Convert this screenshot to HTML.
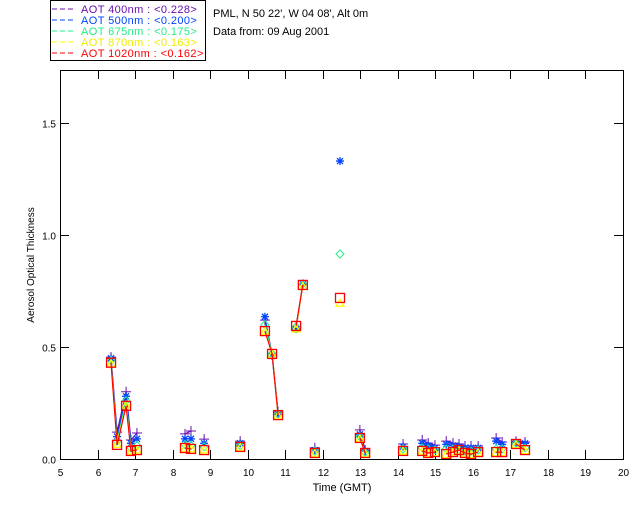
<!DOCTYPE html>
<html><head><meta charset="utf-8"><style>
body{margin:0;background:#fff;}
svg{display:block;font-family:"Liberation Sans",sans-serif;}
</style></head><body>
<svg width="640" height="512" viewBox="0 0 640 512">
<g>
<rect x="50.5" y="0.5" width="155" height="60" fill="#fff" stroke="#000"/>
<g font-size="11" letter-spacing="0.4" xml:space="preserve">
<g><line x1="52" y1="9" x2="76" y2="9" stroke="#6a0dad" stroke-dasharray="5,3"/><text x="81" y="13" fill="#6a0dad">AOT  400nm : &lt;0.228&gt;</text></g>
<g><line x1="52" y1="20" x2="76" y2="20" stroke="#0044ff" stroke-dasharray="5,3"/><text x="81" y="24" fill="#0044ff">AOT  500nm : &lt;0.200&gt;</text></g>
<g><line x1="52" y1="31" x2="76" y2="31" stroke="#22ee88" stroke-dasharray="5,3"/><text x="81" y="35" fill="#22ee88">AOT  675nm : &lt;0.175&gt;</text></g>
<g><line x1="52" y1="42" x2="76" y2="42" stroke="#ffff00" stroke-dasharray="5,3"/><text x="81" y="46" fill="#eeee00">AOT  870nm : &lt;0.163&gt;</text></g>
<g><line x1="52" y1="53" x2="76" y2="53" stroke="#ff0000" stroke-dasharray="5,3"/><text x="81" y="57" fill="#ff0000">AOT 1020nm : &lt;0.162&gt;</text></g>
</g></g>
<text x="213" y="17" font-size="11">PML, N 50 22', W 04 08', Alt 0m</text>
<text x="213" y="35" font-size="11">Data from: 09 Aug 2001</text>
<g id="axes"></g>
<g id="marks"></g>
<text x="342" y="491" font-size="11" text-anchor="middle">Time (GMT)</text>
<text transform="translate(34,265) rotate(-90)" font-size="10" text-anchor="middle">Aerosol Optical Thickness</text>
</svg>
<script>
const hours=[6.36,6.52,6.76,6.89,7.05,8.33,8.49,8.84,9.80,10.46,10.65,10.81,11.29,11.47,11.79,12.46,12.99,13.13,14.14,14.65,14.81,14.99,15.29,15.47,15.63,15.79,15.95,16.14,16.62,16.78,17.15,17.39];
const aot400=[0.455,0.12,0.30,0.085,0.116,0.112,0.125,0.089,0.08,0.62,0.47,0.21,0.59,0.78,0.05,1.80,0.13,0.04,0.067,0.085,0.071,0.062,0.08,0.071,0.067,0.058,0.058,0.058,0.094,0.076,0.08,0.076];
const aot500=[0.45,0.10,0.28,0.07,0.09,0.09,0.09,0.07,0.07,0.635,0.46,0.20,0.58,0.78,0.04,1.33,0.11,0.035,0.055,0.07,0.06,0.05,0.065,0.06,0.055,0.05,0.05,0.05,0.08,0.065,0.075,0.07];
const aot675=[0.44,0.08,0.26,0.05,0.06,0.065,0.06,0.055,0.06,0.60,0.47,0.20,0.59,0.78,0.035,0.915,0.10,0.03,0.045,0.05,0.045,0.04,0.045,0.045,0.04,0.035,0.035,0.04,0.045,0.045,0.07,0.05];
const aot870=[0.43,0.07,0.245,0.04,0.045,0.052,0.05,0.045,0.056,0.575,0.47,0.197,0.585,0.775,0.03,0.70,0.095,0.028,0.04,0.04,0.03,0.033,0.025,0.035,0.042,0.03,0.025,0.033,0.033,0.033,0.068,0.042];
const aot1020=[0.43,0.063,0.237,0.036,0.04,0.049,0.045,0.04,0.054,0.571,0.469,0.196,0.594,0.777,0.027,0.719,0.094,0.027,0.036,0.036,0.027,0.031,0.022,0.031,0.04,0.027,0.022,0.031,0.031,0.031,0.067,0.04];
const xTicks=[5,6,7,8,9,10,11,12,13,14,15,16,17,18,19,20];
const yTicks=[0,0.5,1.0,1.5];
const yTickLabels=["0.0","0.5","1.0","1.5"];

const L=60,R=623,T=70,B=459;
const xs=h=>L+(h-5)*(R-L)/15;
const ys=v=>B-v*224;
const NS="http://www.w3.org/2000/svg";
function mk(tag,attrs,parent){const e=document.createElementNS(NS,tag);for(const k in attrs)e.setAttribute(k,attrs[k]);parent.appendChild(e);return e;}
const axes=document.getElementById('axes'),marks=document.getElementById('marks');
const frame=mk('rect',{x:L+0.5,y:T+0.5,width:R-L,height:B-T,fill:'none',stroke:'#000'},axes);


xTicks.forEach(t=>{
  const x=Math.round(xs(t))+0.5;
  const a=mk('line',{x1:x,y1:B,x2:x,y2:B-9,stroke:'#000'},axes);
  
  
  mk('line',{x1:x,y1:T,x2:x,y2:T+9,stroke:'#000'},axes);
  const tx=mk('text',{x:x,y:B+17,'font-size':10,'text-anchor':'middle'},axes);
  tx.textContent=t;
  
  
});
yTicks.forEach((t,i)=>{
  const y=Math.round(ys(t))+0.5;
  const a=mk('line',{x1:L,y1:y,x2:L+9,y2:y,stroke:'#000'},axes);
  
  
  mk('line',{x1:R,y1:y,x2:R-9,y2:y,stroke:'#000'},axes);
  const tx=mk('text',{x:L-4,y:y+4,'font-size':10,'text-anchor':'end'},axes);
  tx.textContent=yTickLabels[i];
  
  
});
const clip=mk('clipPath',{id:'pc'},axes);mk('rect',{x:L,y:T,width:R-L,height:B-T},clip);
marks.setAttribute('clip-path','url(#pc)');
const series=[
 {name:'aot-400',vals:aot400,c:'#6a0dad',m:'plus'},
 {name:'aot-500',vals:aot500,c:'#0044ff',m:'star'},
 {name:'aot-675',vals:aot675,c:'#22ee88',m:'diamond'},
 {name:'aot-870',vals:aot870,c:'#ffff00',m:'tri'},
 {name:'aot-1020',vals:aot1020,c:'#ff0000',m:'square'}];
series.forEach(s=>{
  const g=mk('g',{},marks);
  
  
  let d='';
  hours.forEach((h,i)=>{
    const x=xs(h),y=ys(s.vals[i]);
    const gap=i>0?h-hours[i-1]:99;
    d+=(gap<0.25?'L':'M')+x.toFixed(1)+' '+y.toFixed(1);
  });
  mk('path',{d:d,fill:'none',stroke:s.c,'stroke-width':1.2},g);
  hours.forEach((h,i)=>{
    const x=xs(h),y=ys(s.vals[i]);let e;
    if(s.m==='plus') e=mk('path',{d:`M${x-5} ${y}H${x+5}M${x} ${y-5}V${y+5}`,stroke:s.c,fill:'none'},g);
    else if(s.m==='star') e=mk('path',{d:`M${x-4} ${y}H${x+4}M${x} ${y-4}V${y+4}M${x-3} ${y-3}L${x+3} ${y+3}M${x-3} ${y+3}L${x+3} ${y-3}`,stroke:s.c,fill:'none','stroke-width':1.3},g);
    else if(s.m==='diamond') e=mk('path',{d:`M${x} ${y-4}L${x+4} ${y}L${x} ${y+4}L${x-4} ${y}Z`,stroke:s.c,fill:'none'},g);
    else if(s.m==='tri') e=mk('path',{d:`M${x} ${y-3}L${x+4} ${y+4}L${x-4} ${y+4}Z`,stroke:s.c,fill:'none','stroke-width':1.3},g);
    else e=mk('rect',{x:x-4.5,y:y-4.5,width:9,height:9,stroke:s.c,fill:'none','stroke-width':1.3},g);
    
    
  });
});
</script>
</body></html>
